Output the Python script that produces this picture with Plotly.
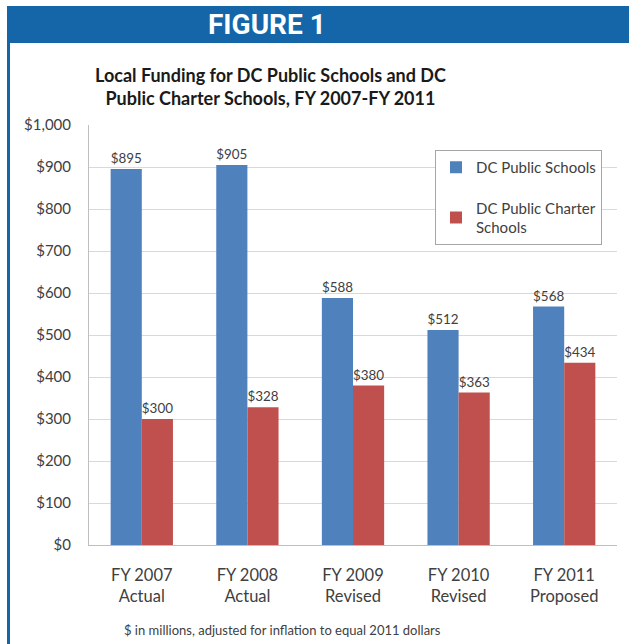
import plotly.graph_objects as go

categories = ["FY 2007<br>Actual", "FY 2008<br>Actual", "FY 2009<br>Revised",
              "FY 2010<br>Revised", "FY 2011<br>Proposed"]
public_schools = [895, 905, 588, 512, 568]
charter_schools = [300, 328, 380, 363, 434]
series_names = ["DC Public Schools", "DC Public Charter<br>Schools"]

FONT = "Lato, 'Open Sans', sans-serif"
TXT = "#404040"

fig = go.Figure()
fig.add_trace(go.Bar(
    x=categories, y=public_schools, name=series_names[0],
    marker=dict(color="#4F81BD", line=dict(width=0)),
    text=[f"${v}" for v in public_schools], textposition="outside",
    textfont=dict(size=14, color=TXT, family=FONT), cliponaxis=False,
    legendgroup="a",
))
fig.add_trace(go.Bar(
    x=categories, y=charter_schools, name=series_names[1],
    marker=dict(color="#C0504D", line=dict(width=0)),
    text=[f"${v}" for v in charter_schools], textposition="outside",
    textfont=dict(size=14, color=TXT, family=FONT), cliponaxis=False,
    legendgroup="b",
))

def px_x(x):
    return (x - 89) / 528

def px_y(y):
    return (545 - y) / 420

fig.update_layout(
    width=629, height=644,
    margin=dict(l=89, r=12, t=125, b=99),
    paper_bgcolor="white", plot_bgcolor="white",
    barmode="group", bargap=0.41, bargroupgap=0,
    font=dict(family=FONT, color=TXT, size=15),
    showlegend=True,
    legend=dict(
        x=px_x(435), y=px_y(150), xanchor="left", yanchor="top",
        bgcolor="white", bordercolor="#A6A6A6", borderwidth=1,
        font=dict(size=15, color=TXT, family=FONT),
        traceorder="grouped", tracegroupgap=18,
        itemwidth=30,
    ),
    xaxis=dict(
        showgrid=False, showline=True, linecolor="#BFBFBF", linewidth=1,
        ticks="", tickfont=dict(size=16.5, color=TXT, family=FONT),
        ticklabelstandoff=15,
    ),
    yaxis=dict(
        range=[0, 1000], dtick=100, tickprefix="$", tickformat=",d",
        showgrid=True, gridcolor="#D9D9D9", gridwidth=1,
        showline=True, linecolor="#BFBFBF", linewidth=1,
        zeroline=False, ticks="", ticklabelstandoff=14,
        tickfont=dict(size=15, color=TXT, family=FONT),
    ),
    annotations=[
        dict(text="<b>Local Funding for DC Public Schools and DC<br>Public Charter Schools, FY 2007-FY 2011</b>",
             xref="paper", yref="paper", x=px_x(270), y=px_y(86),
             xanchor="center", yanchor="middle", showarrow=False,
             font=dict(size=18, color="#1a1a1a", family=FONT), align="center"),
        dict(text="$ in millions, adjusted for inflation to equal 2011 dollars",
             xref="paper", yref="paper", x=px_x(282), y=px_y(630),
             xanchor="center", yanchor="middle", showarrow=False,
             font=dict(size=13, color=TXT, family=FONT)),
    ],
)

# Header bar and left frame line
fig.add_shape(type="rect", xref="paper", yref="paper",
              x0=px_x(7), x1=px_x(640), y0=px_y(43), y1=px_y(6),
              fillcolor="#1466A9", line=dict(width=0), layer="above")
fig.add_shape(type="rect", xref="paper", yref="paper",
              x0=px_x(7), x1=px_x(10), y0=px_y(650), y1=px_y(6),
              fillcolor="#1466A9", line=dict(width=0), layer="above")
fig.add_annotation(text="<b>FIGURE 1</b>", xref="paper", yref="paper",
                   x=px_x(267), y=px_y(25), xanchor="center", yanchor="middle",
                   showarrow=False,
                   font=dict(size=28, color="white", family="'Liberation Sans Narrow', 'Arial Narrow', Roboto, sans-serif"))

fig.write_html("out.html")
